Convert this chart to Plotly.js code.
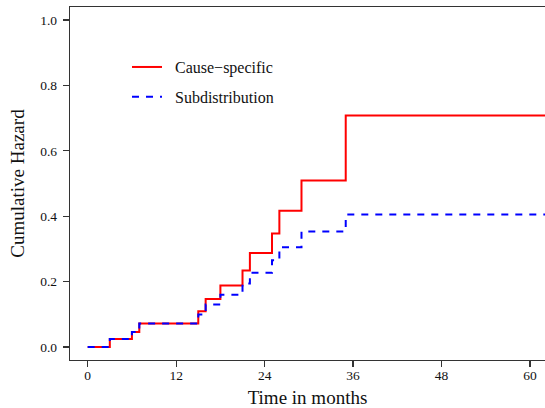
<!DOCTYPE html>
<html>
<head>
<meta charset="utf-8">
<script src="https://cdn.plot.ly/plotly-3.0.1.min.js"></script>
<style>html,body{margin:0;padding:0;background:#fff;}#chart{width:545px;height:408px;}</style>
</head>
<body>
<div id="chart"></div>
<script>
// Time points (months) where the step curves change; last value = end of follow-up
var timeMonths = [0, 3, 6, 7, 15, 16, 18, 21, 22, 25, 26, 29, 35, 63];
var causeSpecific = [0, 0.024, 0.046, 0.072, 0.109, 0.147, 0.188, 0.234, 0.287, 0.347, 0.417, 0.509, 0.708, 0.708];
var subdistribution = [0, 0.024, 0.046, 0.072, 0.099, 0.130, 0.160, 0.194, 0.227, 0.265, 0.305, 0.353, 0.405, 0.405];
var seriesNames = ["Cause\u2212specific", "Subdistribution"];
var xTicks = [0, 12, 24, 36, 48, 60];
var yTicks = [0, 0.2, 0.4, 0.6, 0.8, 1.0];

var serif = "Liberation Serif, Times New Roman, serif";
var axisCol = "#333";
var pad = "\u00a0\u00a0";

var traces = [
  {x: timeMonths, y: causeSpecific, name: pad + seriesNames[0], type: "scatter", mode: "lines",
   line: {shape: "hv", color: "#FF0000", width: 2}, legendgroup: "a"},
  {x: timeMonths, y: subdistribution, name: pad + seriesNames[1], type: "scatter", mode: "lines",
   line: {shape: "hv", color: "#0000FF", width: 2, dash: "7px,7px"}, legendgroup: "b"}
];

var layout = {
  width: 545, height: 408,
  margin: {l: 70, r: 0, t: 7, b: 48},
  paper_bgcolor: "#fff", plot_bgcolor: "#fff",
  font: {family: serif, color: "#111"},
  showlegend: true,
  legend: {x: 0.12, y: 0.878, xanchor: "left", yanchor: "top", bgcolor: "rgba(0,0,0,0)",
           font: {family: serif, size: 16, color: "#111"}, tracegroupgap: 6},
  xaxis: {
    range: [-2.4, 62.03], showgrid: false, zeroline: false,
    showline: true, mirror: true, linecolor: axisCol, linewidth: 1.3,
    ticks: "outside", ticklen: 6, tickcolor: axisCol, tickwidth: 1.3,
    tickvals: xTicks, ticktext: xTicks.map(String), ticklabelstandoff: -4,
    tickfont: {family: serif, size: 13.5, color: "#111"},
    title: {text: "Time in months", font: {family: serif, size: 19, color: "#111"}, standoff: 12},
    automargin: false
  },
  yaxis: {
    range: [-0.04, 1.04], showgrid: false, zeroline: false,
    showline: true, mirror: false, linecolor: axisCol, linewidth: 1.3,
    ticks: "outside", ticklen: 6, tickcolor: axisCol, tickwidth: 1.3,
    tickvals: yTicks, ticktext: yTicks.map(function(v){return v.toFixed(1);}), ticklabelstandoff: 3,
    tickfont: {family: serif, size: 13.5, color: "#111"},
    title: {text: "Cumulative Hazard", font: {family: serif, size: 19, color: "#111"}, standoff: 10},
    automargin: false
  }
};

Plotly.newPlot("chart", traces, layout, {staticPlot: true, displayModeBar: false});
</script>
</body>
</html>
